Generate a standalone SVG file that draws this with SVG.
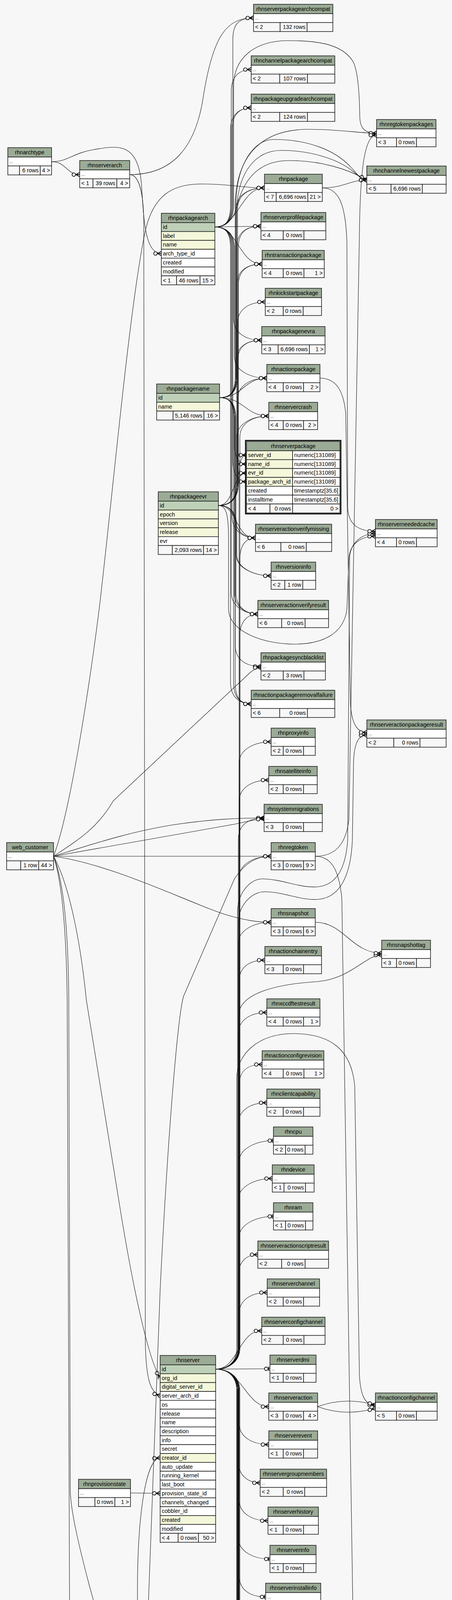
<svg xmlns="http://www.w3.org/2000/svg" width="1157" height="5580" viewBox="0 0 1157 5580">
<style>
text{font-family:"Liberation Sans",Arial,Helvetica,sans-serif;font-size:14.3px;fill:#000}
.c{text-anchor:middle}
.r{text-anchor:end}
.d{font-size:11px}
.h{fill:#9bab96;stroke:#222;stroke-width:1.6}
.b{fill:#fff;stroke:#222;stroke-width:1.6}
.f{fill:#f7f7f7;stroke:#222;stroke-width:1.6}
.g{fill:#bed1b8;stroke:#222;stroke-width:1.6}
.y{fill:#f4f7da;stroke:#222;stroke-width:1.6}
.fo{fill:none;stroke:#000;stroke-width:2.5}
#edges path{fill:none;stroke:#111;stroke-width:1.1;marker-end:url(#crow)}
#edges path.o{marker-end:url(#one)}
</style>
<defs>
<marker id="crow" markerUnits="userSpaceOnUse" orient="auto" markerWidth="22" markerHeight="14" viewBox="-21 -7 22 14" refX="0" refY="0"><path d="M-10 0L0-5.5M-10 0L0 0M-10 0L0 5.5" fill="none" stroke="#000" stroke-width="1.8"/><circle cx="-15" cy="0" r="4.5" fill="#fff" stroke="#000" stroke-width="1.7"/></marker>
<marker id="one" markerUnits="userSpaceOnUse" orient="auto" markerWidth="22" markerHeight="14" viewBox="-21 -7 22 14" refX="0" refY="0"><path d="M-3-5.5V5.5" fill="none" stroke="#000" stroke-width="2"/><circle cx="-9.5" cy="0" r="4.5" fill="#fff" stroke="#000" stroke-width="1.7"/></marker>
</defs>
<rect x="0" y="0" width="1157" height="5580" fill="#f7f7f7"/>
<g id="edges">
<path d="M550 581C578 581 596 566 596 526L596 101C596 64 609 46 649 46"/>
<path d="M550 581C578 581 592 566 592 526L592 233C592 196 613 178 643 178"/>
<path d="M550 581C578 581 590 566 590 526L590 331C590 294 613 276 643 276"/>
<path d="M550 581C578 581 594 566 594 526L594 331C594 294 613 276 643 276"/>
<path d="M550 581C610 581 617 481 677 481"/>
<path d="M550 581L668 579"/>
<path d="M550 581C610 581 611 676 671 676"/>
<path d="M550 581C578 581 598 596 598 636L598 816C598 853 630 871 670 871"/>
<path d="M550 581C578 581 600 596 600 636L600 913C600 950 643 968 683 968"/>
<path d="M550 581C578 581 596 596 596 636L596 1178C596 1215 611 1233 631 1233"/>
<path d="M550 581C578 581 594 596 594 636L594 1322C594 1359 624 1377 654 1377"/>
<path d="M550 581C578 581 592 596 592 636L592 1517C592 1554 630 1572 660 1572"/>
<path d="M550 581C578 581 590 596 590 636L590 1747C590 1784 613 1802 643 1802"/>
<path d="M550 581C578 581 598 566 598 526L598 220C598 150 650 104 738 104C820 104 880 115 905 160C918 190 920 250 921 300C922 330 935 341 964 341"/>
<path d="M550 581C580 581 598 560 606 530C625 450 670 411 740 411C820 411 890 432 939 461"/>
<path d="M562 1018C590 1018 604 1003 604 963L604 536C604 499 637 481 677 481"/>
<path d="M562 1018C590 1018 604 1003 604 963L604 520C606 420 650 357 700 357C790 357 860 385 900 430C915 447 925 461 939 461"/>
<path d="M562 1018C590 1018 602 1003 602 963L602 520C605 420 650 331 790 331C870 331 920 341 964 341"/>
<path d="M562 1018C590 1018 606 1003 606 963L606 634C606 597 628 579 668 579"/>
<path d="M562 1018C590 1018 606 1003 606 963L606 731C606 694 631 676 671 676"/>
<path d="M562 1018C590 1018 608 1003 608 963L608 828C608 791 639 773 679 773"/>
<path d="M562 1018C590 1018 604 1003 604 963L604 926C604 889 630 871 670 871"/>
<path d="M562 1018C620 1018 625 968 683 968"/>
<path d="M562 1018C625 1018 628 1065 688 1065"/>
<path d="M562 1018C590 1018 600 1033 600 1073L600 1133C600 1170 611 1188 631 1188"/>
<path d="M562 1018C590 1018 602 1033 602 1073L602 1322C602 1359 624 1377 654 1377"/>
<path d="M562 1018C590 1018 604 1033 604 1073L604 1419C604 1456 654 1474 694 1474"/>
<path d="M562 1018C590 1018 600 1033 600 1073L600 1517C600 1554 630 1572 660 1572"/>
<path d="M562 1018C590 1018 602 1033 602 1073L602 1651C602 1688 628 1706 668 1706"/>
<path d="M562 1018C590 1018 598 1033 598 1073L598 1747C598 1784 613 1802 643 1802"/>
<path d="M559 1294C587 1294 608 1279 608 1239L608 536C608 499 637 481 677 481"/>
<path d="M559 1294C587 1294 606 1279 606 1239L606 540C608 440 655 385 720 385C800 385 870 410 905 440C920 452 928 461 939 461"/>
<path d="M559 1294C587 1294 610 1279 610 1239L610 634C610 597 628 579 668 579"/>
<path d="M559 1294C587 1294 610 1279 610 1239L610 731C610 694 631 676 671 676"/>
<path d="M559 1294C587 1294 608 1279 608 1239L608 926C608 889 630 871 670 871"/>
<path d="M559 1294C587 1294 608 1279 608 1239L608 1023C608 986 643 968 683 968"/>
<path d="M559 1294C587 1294 606 1279 606 1239L606 1120C606 1083 648 1065 688 1065"/>
<path d="M559 1294C600 1294 595 1211 631 1211"/>
<path d="M559 1294C610 1294 600 1377 654 1377"/>
<path d="M559 1294C587 1294 606 1309 606 1349L606 1419C606 1456 654 1474 694 1474"/>
<path d="M559 1294C587 1294 604 1309 604 1349L604 1517C604 1554 630 1572 660 1572"/>
<path d="M559 1294C587 1294 602 1309 602 1349L602 1747C602 1784 613 1802 643 1802"/>
<path d="M559 1294C580 1294 585 1320 585 1380L585 1560C587 1620 680 1649 753 1649C830 1649 880 1620 888 1560L893 1430C896 1390 925 1373 961 1373"/>
<path d="M552 3505C580 3505 612 3490 612 3450L612 1220C612 1183 618 1165 631 1165"/>
<path d="M552 3505C580 3505 614 3490 614 3450L614 1432C614 1395 630 1377 654 1377"/>
<path d="M552 3505C580 3505 614 3490 614 3450L614 1627C614 1590 635 1572 660 1572"/>
<path d="M552 3505C580 3505 612 3490 612 3450L612 1954C612 1917 654 1899 694 1899"/>
<path d="M552 3505C580 3505 612 3490 612 3450L612 2052C612 2015 648 1997 688 1997"/>
<path d="M552 3505C580 3505 610 3490 610 3450L610 2149C610 2112 636 2094 676 2094"/>
<path d="M552 3505C580 3505 612 3490 612 3450L612 2247C612 2210 654 2192 694 2192"/>
<path d="M552 3505C580 3505 610 3490 610 3450L610 2416C610 2379 654 2361 694 2361"/>
<path d="M552 3505C580 3505 612 3490 612 3450L612 2513C612 2476 638 2458 678 2458"/>
<path d="M552 3505C580 3505 611 3490 611 3450L611 2600C611 2545 700 2520 812 2513C900 2505 935 2445 977 2445"/>
<path d="M552 3505C580 3505 610 3490 610 3450L610 2647C610 2610 643 2592 683 2592"/>
<path d="M552 3505C580 3505 612 3490 612 3450L612 2780C612 2743 631 2725 671 2725"/>
<path d="M552 3505C580 3505 610 3490 610 3450L610 2878C610 2841 643 2823 683 2823"/>
<path class="o" d="M552 3505C580 3505 612 3490 612 3450L612 2975C612 2938 660 2920 700 2920"/>
<path d="M552 3505C580 3505 610 3490 610 3450L610 3072C610 3035 657 3017 697 3017"/>
<path class="o" d="M552 3505C580 3505 612 3490 612 3450L612 3169C612 3132 660 3114 700 3114"/>
<path d="M552 3505C580 3505 610 3490 610 3450L610 3267C610 3230 630 3212 660 3212"/>
<path d="M552 3505C580 3505 612 3490 612 3450L612 3364C612 3327 644 3309 684 3309"/>
<path d="M552 3505C610 3505 610 3407 670 3407"/>
<path class="o" d="M552 3505L691 3504"/>
<path d="M552 3505C620 3505 630 3601 688 3601"/>
<path d="M552 3505C580 3505 612 3520 612 3560L612 3643C612 3680 648 3698 688 3698"/>
<path d="M552 3505C580 3505 610 3520 610 3560L610 3741C610 3778 636 3796 666 3796"/>
<path d="M552 3505C580 3505 612 3520 612 3560L612 3838C612 3875 646 3893 686 3893"/>
<path class="o" d="M552 3505C580 3505 610 3520 610 3560L610 3936C610 3973 651 3991 691 3991"/>
<path class="o" d="M552 3505C580 3505 612 3520 612 3560L612 4033C612 4070 640 4088 680 4088"/>
<path class="o" d="M552 3505C580 3505 610 3520 610 3560L610 4130C610 4167 644 4185 684 4185"/>
<path class="o" d="M552 3505C580 3505 612 3520 612 3560L612 4227C612 4264 634 4282 674 4282"/>
<path d="M552 3505C580 3505 610 3520 610 3560L610 4325C610 4362 643 4380 683 4380"/>
<path d="M552 3505C580 3505 608 3520 608 3560L608 4419C608 4456 650 4474 690 4474"/>
<path d="M552 3505C580 3505 612 3520 612 3560L612 4425C612 4462 650 4480 690 4480"/>
<path d="M552 3505C580 3505 610 3520 610 3560L610 4519C610 4556 638 4574 668 4574"/>
<path class="o" d="M552 3505C580 3505 612 3520 612 3560L612 4617C612 4654 650 4672 690 4672"/>
<path d="M552 3505C580 3505 610 3520 610 3560L610 4714C610 4751 641 4769 671 4769"/>
<path d="M552 3505C580 3505 608 3520 608 3560L608 4808C608 4845 643 4863 683 4863"/>
<path d="M552 3505C580 3505 612 3520 612 3560L612 4815C612 4852 643 4870 683 4870"/>
<path d="M552 3505C580 3505 606 3520 606 3560L606 4941C606 4978 640 4996 680 4996"/>
<path d="M552 3505C580 3505 610 3520 610 3560L610 4945C610 4982 640 5000 680 5000"/>
<path d="M552 3505C580 3505 614 3520 614 3560L614 4949C614 4986 640 5004 680 5004"/>
<path d="M552 3505C580 3505 608 3520 608 3560L608 5042C608 5079 637 5097 677 5097"/>
<path d="M552 3505C580 3505 610 3520 610 3560L610 5139C610 5176 640 5194 680 5194"/>
<path d="M552 3505C580 3505 608 3520 608 3560L608 5236C608 5273 630 5291 660 5291"/>
<path d="M552 3505C580 3505 610 3520 610 3560L610 5334C610 5371 651 5389 691 5389"/>
<path d="M552 3505C580 3505 606 3520 606 3560L606 5431C606 5468 648 5486 688 5486"/>
<path d="M552 3505C580 3505 614 3490 614 3450L614 1120C614 1083 648 1065 688 1065"/>
<path d="M552 3505C580 3505 608 3490 608 3450L608 2330C610 2285 640 2250 672 2250C722 2250 770 2275 815 2270C860 2265 885 2225 890 2150L895 1425C898 1390 925 1366 961 1366"/>
<path d="M552 3505C580 3505 610 3490 610 3450L610 2360C612 2315 645 2283 678 2283C728 2283 772 2307 817 2302C868 2297 898 2245 902 2150L905 1950C907 1900 918 1882 939 1882"/>
<path d="M552 3505C580 3505 606 3490 606 3450L606 2760C606 2700 660 2646 750 2646C850 2646 900 2690 908 2780L920 3520C923 3575 935 3597 961 3597"/>
<path d="M552 3505C580 3505 612 3520 612 3560L612 4850C614 4910 680 4945 750 4945C830 4945 895 4910 903 4830L912 4380C915 4335 935 4318 968 4318"/>
<path d="M825 481C880 481 895 461 939 461"/>
<path d="M825 481C870 481 885 530 888 620L890 1300C892 1345 920 1360 961 1360"/>
<path d="M819 968C860 968 880 1000 885 1060L897 1800C900 1855 915 1875 939 1875"/>
<path d="M807 2192C860 2192 885 2160 893 2100L920 600C922 420 935 346 964 346"/>
<path d="M807 2192C850 2192 868 2230 875 2300L905 4230C908 4290 930 4311 968 4311"/>
<path d="M807 2361C880 2361 900 2440 977 2440"/>
<path d="M813 3601C870 3580 920 3585 961 3597"/>
<path d="M813 3601C870 3622 920 3617 961 3605"/>
<path d="M132 414C170 414 170 447 204 447"/>
<path d="M132 414C175 414 185 392 240 383C300 373 352 362 362 470C368 560 370 649 413 649"/>
<path d="M332 447C440 447 500 380 520 250C545 90 580 46 649 46"/>
<path d="M332 447C352 447 366 480 368 560L372 3440C374 3530 385 3565 410 3573"/>
<path d="M137 2192C180 2080 230 1750 255 1550C290 1250 330 800 370 600C390 500 440 471 516 471C590 471 620 481 677 481"/>
<path d="M137 2192C240 2160 330 2130 440 2112C540 2097 610 2094 676 2094"/>
<path d="M137 2192L600 2110C630 2104 650 2098 676 2096"/>
<path d="M137 2192L694 2192"/>
<path d="M137 2192C300 2215 500 2320 590 2345C630 2356 660 2361 694 2361"/>
<path d="M137 2192C200 2150 250 2120 290 2050L640 1722C650 1714 657 1709 668 1709"/>
<path d="M137 2192C175 2260 205 2400 221 2560L302 3060C340 3300 380 3480 410 3528"/>
<path d="M137 2192C160 2260 170 2400 172 2560L180 4600C185 4900 195 5080 210 5148"/>
<path d="M137 2192C165 2260 175 2400 176 2560L180 3820C182 3870 200 3950 229 4060L366 4560C420 4800 560 4960 680 4998"/>
<path d="M334 3822L410 3823"/>
<path d="M325 5145C348 5090 362 4950 362 4800L352 4100C350 3900 370 3735 410 3732"/>
<path d="M325 5145C345 5100 343 5000 343 4900L380 4100L410 3300C430 2900 455 2600 470 2550L600 2250C630 2205 660 2192 694 2192"/>
<path d="M325 5145C370 5120 420 5070 490 5052C560 5030 620 5003 680 5001"/>
<path d="M325 5145C420 5140 480 5125 540 5112C600 5100 640 5097 677 5097"/>
<path d="M325 5145C420 5150 480 5160 540 5180C600 5195 640 5194 680 5194"/>
<path d="M325 5145C360 5170 400 5200 430 5225C480 5265 560 5291 660 5291"/>
<path d="M325 5145C365 5175 405 5205 440 5230C490 5270 570 5290 660 5293"/>
<path d="M325 5145C355 5180 380 5250 420 5300C480 5370 580 5389 691 5389"/>
<path d="M325 5145C370 5200 355 5300 380 5380C420 5470 560 5486 688 5486"/>
</g>
<g id="rhnserverpackagearchcompat"><rect class="h" x="649" y="11" width="203" height="24"/><text class="c" x="750.5" y="28">rhnserverpackagearchcompat</text><rect class="b" x="649" y="35" width="203" height="22.7"/><text class="d" x="653" y="50">...</text><rect class="f" x="649" y="57.7" width="68" height="23"/><rect class="f" x="717" y="57.7" width="69" height="23"/><rect class="f" x="786" y="57.7" width="66" height="23"/><text x="653" y="74">&lt; 2</text><text class="r" x="782" y="74">132 rows</text></g>
<g id="rhnchannelpackagearchcompat"><rect class="h" x="643" y="143" width="214" height="24"/><text class="c" x="750" y="160">rhnchannelpackagearchcompat</text><rect class="b" x="643" y="167" width="214" height="22.7"/><text class="d" x="647" y="182">...</text><rect class="f" x="643" y="189.7" width="73" height="23"/><rect class="f" x="716" y="189.7" width="71" height="23"/><rect class="f" x="787" y="189.7" width="70" height="23"/><text x="647" y="206">&lt; 2</text><text class="r" x="783" y="206">107 rows</text></g>
<g id="rhnpackageupgradearchcompat"><rect class="h" x="643" y="241" width="214" height="24"/><text class="c" x="750" y="258">rhnpackageupgradearchcompat</text><rect class="b" x="643" y="265" width="214" height="22.7"/><text class="d" x="647" y="280">...</text><rect class="f" x="643" y="287.7" width="73" height="23"/><rect class="f" x="716" y="287.7" width="71" height="23"/><rect class="f" x="787" y="287.7" width="70" height="23"/><text x="647" y="304">&lt; 2</text><text class="r" x="783" y="304">124 rows</text></g>
<g id="rhnregtokenpackages"><rect class="h" x="964" y="306" width="152" height="24"/><text class="c" x="1040" y="323">rhnregtokenpackages</text><rect class="b" x="964" y="330" width="152" height="22.7"/><text class="d" x="968" y="345">...</text><rect class="f" x="964" y="352.7" width="51" height="23"/><rect class="f" x="1015" y="352.7" width="51" height="23"/><rect class="f" x="1066" y="352.7" width="50" height="23"/><text x="968" y="369">&lt; 3</text><text class="r" x="1062" y="369">0 rows</text></g>
<g id="rhnarchtype"><rect class="h" x="20" y="378" width="112" height="24"/><text class="c" x="76" y="395">rhnarchtype</text><rect class="b" x="20" y="402" width="112" height="22.7"/><text class="d" x="24" y="417">...</text><rect class="f" x="20" y="424.7" width="30" height="23"/><rect class="f" x="50" y="424.7" width="53" height="23"/><rect class="f" x="103" y="424.7" width="29" height="23"/><text class="r" x="99" y="441">6 rows</text><text class="r" x="128" y="441">4 &gt;</text></g>
<g id="rhnserverarch"><rect class="h" x="204" y="411" width="128" height="24"/><text class="c" x="268" y="428">rhnserverarch</text><rect class="b" x="204" y="435" width="128" height="22.7"/><text class="d" x="208" y="450">...</text><rect class="f" x="204" y="457.7" width="34" height="23"/><rect class="f" x="238" y="457.7" width="61" height="23"/><rect class="f" x="299" y="457.7" width="33" height="23"/><text x="208" y="474">&lt; 1</text><text class="r" x="295" y="474">39 rows</text><text class="r" x="328" y="474">4 &gt;</text></g>
<g id="rhnchannelnewestpackage"><rect class="h" x="939" y="425" width="203" height="24"/><text class="c" x="1040.5" y="442">rhnchannelnewestpackage</text><rect class="b" x="939" y="449" width="203" height="22.7"/><text class="d" x="943" y="464">...</text><rect class="f" x="939" y="471.7" width="62" height="23"/><rect class="f" x="1001" y="471.7" width="80" height="23"/><rect class="f" x="1081" y="471.7" width="61" height="23"/><text x="943" y="488">&lt; 5</text><text class="r" x="1077" y="488">6,696 rows</text></g>
<g id="rhnpackage"><rect class="h" x="677" y="446" width="148" height="24"/><text class="c" x="751" y="463">rhnpackage</text><rect class="b" x="677" y="470" width="148" height="22.7"/><text class="d" x="681" y="485">...</text><rect class="f" x="677" y="492.7" width="30" height="23"/><rect class="f" x="707" y="492.7" width="81" height="23"/><rect class="f" x="788" y="492.7" width="37" height="23"/><text x="681" y="509">&lt; 7</text><text class="r" x="784" y="509">6,696 rows</text><text class="r" x="821" y="509">21 &gt;</text></g>
<g id="rhnpackagearch"><rect class="h" x="413" y="546" width="137" height="24"/><text class="c" x="481.5" y="563">rhnpackagearch</text><rect class="g" x="413" y="570" width="137" height="22.7"/><text x="417" y="586">id</text><rect class="y" x="413" y="592.7" width="137" height="22.7"/><text x="417" y="608.7">label</text><rect class="y" x="413" y="615.4" width="137" height="22.7"/><text x="417" y="631.4">name</text><rect class="b" x="413" y="638.1" width="137" height="22.7"/><text x="417" y="654.1">arch_type_id</text><rect class="b" x="413" y="660.8" width="137" height="22.7"/><text x="417" y="676.8">created</text><rect class="b" x="413" y="683.5" width="137" height="22.7"/><text x="417" y="699.5">modified</text><rect class="f" x="413" y="706.2" width="39" height="23"/><rect class="f" x="452" y="706.2" width="60" height="23"/><rect class="f" x="512" y="706.2" width="38" height="23"/><text x="417" y="722.5">&lt; 1</text><text class="r" x="508" y="722.5">46 rows</text><text class="r" x="546" y="722.5">15 &gt;</text></g>
<g id="rhnserverprofilepackage"><rect class="h" x="668" y="544" width="166" height="24"/><text class="c" x="751" y="561">rhnserverprofilepackage</text><rect class="b" x="668" y="568" width="166" height="22.7"/><text class="d" x="672" y="583">...</text><rect class="f" x="668" y="590.7" width="57" height="23"/><rect class="f" x="725" y="590.7" width="53" height="23"/><rect class="f" x="778" y="590.7" width="56" height="23"/><text x="672" y="607">&lt; 4</text><text class="r" x="774" y="607">0 rows</text></g>
<g id="rhntransactionpackage"><rect class="h" x="671" y="641" width="159" height="24"/><text class="c" x="750.5" y="658">rhntransactionpackage</text><rect class="b" x="671" y="665" width="159" height="22.7"/><text class="d" x="675" y="680">...</text><rect class="f" x="671" y="687.7" width="54" height="23"/><rect class="f" x="725" y="687.7" width="53" height="23"/><rect class="f" x="778" y="687.7" width="52" height="23"/><text x="675" y="704">&lt; 4</text><text class="r" x="774" y="704">0 rows</text><text class="r" x="826" y="704">1 &gt;</text></g>
<g id="rhnkickstartpackage"><rect class="h" x="679" y="738" width="144" height="24"/><text class="c" x="751" y="755">rhnkickstartpackage</text><rect class="b" x="679" y="762" width="144" height="22.7"/><text class="d" x="683" y="777">...</text><rect class="f" x="679" y="784.7" width="46" height="23"/><rect class="f" x="725" y="784.7" width="51" height="23"/><rect class="f" x="776" y="784.7" width="47" height="23"/><text x="683" y="801">&lt; 2</text><text class="r" x="772" y="801">0 rows</text></g>
<g id="rhnpackagenevra"><rect class="h" x="670" y="836" width="162" height="24"/><text class="c" x="751" y="853">rhnpackagenevra</text><rect class="b" x="670" y="860" width="162" height="22.7"/><text class="d" x="674" y="875">...</text><rect class="f" x="670" y="882.7" width="42" height="23"/><rect class="f" x="712" y="882.7" width="80" height="23"/><rect class="f" x="792" y="882.7" width="40" height="23"/><text x="674" y="899">&lt; 3</text><text class="r" x="788" y="899">6,696 rows</text><text class="r" x="828" y="899">1 &gt;</text></g>
<g id="rhnactionpackage"><rect class="h" x="683" y="933" width="136" height="24"/><text class="c" x="751" y="950">rhnactionpackage</text><rect class="b" x="683" y="957" width="136" height="22.7"/><text class="d" x="687" y="972">...</text><rect class="f" x="683" y="979.7" width="42" height="23"/><rect class="f" x="725" y="979.7" width="52" height="23"/><rect class="f" x="777" y="979.7" width="42" height="23"/><text x="687" y="996">&lt; 4</text><text class="r" x="773" y="996">0 rows</text><text class="r" x="815" y="996">2 &gt;</text></g>
<g id="rhnpackagename"><rect class="h" x="401" y="983" width="161" height="24"/><text class="c" x="481.5" y="1000">rhnpackagename</text><rect class="g" x="401" y="1007" width="161" height="22.7"/><text x="405" y="1023">id</text><rect class="y" x="401" y="1029.7" width="161" height="22.7"/><text x="405" y="1045.7">name</text><rect class="f" x="401" y="1052.4" width="42" height="23"/><rect class="f" x="443" y="1052.4" width="79" height="23"/><rect class="f" x="522" y="1052.4" width="40" height="23"/><text class="r" x="518" y="1068.5">5,146 rows</text><text class="r" x="558" y="1068.5">16 &gt;</text></g>
<g id="rhnservercrash"><rect class="h" x="688" y="1030" width="125" height="24"/><text class="c" x="750.5" y="1047">rhnservercrash</text><rect class="b" x="688" y="1054" width="125" height="22.7"/><text class="d" x="692" y="1069">...</text><rect class="f" x="688" y="1076.7" width="37" height="23"/><rect class="f" x="725" y="1076.7" width="52" height="23"/><rect class="f" x="777" y="1076.7" width="36" height="23"/><text x="692" y="1093">&lt; 4</text><text class="r" x="773" y="1093">0 rows</text><text class="r" x="809" y="1093">2 &gt;</text></g>
<g id="rhnserverpackage"><rect class="h" x="631" y="1130" width="239" height="24"/><text class="c" x="750.5" y="1147">rhnserverpackage</text><rect class="y" x="631" y="1154" width="118" height="22.7"/><rect class="b" x="749" y="1154" width="121" height="22.7"/><text x="635" y="1170">server_id</text><text x="753" y="1170">numeric[131089]</text><rect class="y" x="631" y="1176.7" width="118" height="22.7"/><rect class="b" x="749" y="1176.7" width="121" height="22.7"/><text x="635" y="1192.7">name_id</text><text x="753" y="1192.7">numeric[131089]</text><rect class="y" x="631" y="1199.4" width="118" height="22.7"/><rect class="b" x="749" y="1199.4" width="121" height="22.7"/><text x="635" y="1215.4">evr_id</text><text x="753" y="1215.4">numeric[131089]</text><rect class="y" x="631" y="1222.1" width="118" height="22.7"/><rect class="b" x="749" y="1222.1" width="121" height="22.7"/><text x="635" y="1238.1">package_arch_id</text><text x="753" y="1238.1">numeric[131089]</text><rect class="b" x="631" y="1244.8" width="118" height="22.7"/><rect class="b" x="749" y="1244.8" width="121" height="22.7"/><text x="635" y="1260.8">created</text><text x="753" y="1260.8">timestamptz[35,6]</text><rect class="b" x="631" y="1267.5" width="118" height="22.7"/><rect class="b" x="749" y="1267.5" width="121" height="22.7"/><text x="635" y="1283.5">installtime</text><text x="753" y="1283.5">timestamptz[35,6]</text><rect class="f" x="631" y="1290.2" width="60" height="23"/><rect class="f" x="691" y="1290.2" width="58" height="23"/><rect class="f" x="749" y="1290.2" width="121" height="23"/><text x="635" y="1306.5">&lt; 4</text><text class="r" x="745" y="1306.5">0 rows</text><text class="r" x="866" y="1306.5">0 &gt;</text><rect class="fo" x="628.5" y="1127.5" width="244" height="188"/></g>
<g id="rhnpackageevr"><rect class="h" x="405" y="1259" width="154" height="24"/><text class="c" x="482" y="1276">rhnpackageevr</text><rect class="g" x="405" y="1283" width="154" height="22.7"/><text x="409" y="1299">id</text><rect class="y" x="405" y="1305.7" width="154" height="22.7"/><text x="409" y="1321.7">epoch</text><rect class="y" x="405" y="1328.4" width="154" height="22.7"/><text x="409" y="1344.4">version</text><rect class="y" x="405" y="1351.1" width="154" height="22.7"/><text x="409" y="1367.1">release</text><rect class="b" x="405" y="1373.8" width="154" height="22.7"/><text x="409" y="1389.8">evr</text><rect class="f" x="405" y="1396.5" width="36" height="23"/><rect class="f" x="441" y="1396.5" width="80" height="23"/><rect class="f" x="521" y="1396.5" width="38" height="23"/><text class="r" x="517" y="1412.5">2,093 rows</text><text class="r" x="555" y="1412.5">14 &gt;</text></g>
<g id="rhnserveractionverifymissing"><rect class="h" x="654" y="1342" width="195" height="24"/><text class="c" x="751.5" y="1359">rhnserveractionverifymissing</text><rect class="b" x="654" y="1366" width="195" height="22.7"/><text class="d" x="658" y="1381">...</text><rect class="f" x="654" y="1388.7" width="65" height="23"/><rect class="f" x="719" y="1388.7" width="65" height="23"/><rect class="f" x="784" y="1388.7" width="65" height="23"/><text x="658" y="1405">&lt; 6</text><text class="r" x="780" y="1405">0 rows</text></g>
<g id="rhnserverneededcache"><rect class="h" x="961" y="1330" width="158" height="24"/><text class="c" x="1040" y="1347">rhnserverneededcache</text><rect class="b" x="961" y="1354" width="158" height="22.7"/><text class="d" x="965" y="1369">...</text><rect class="f" x="961" y="1376.7" width="54" height="23"/><rect class="f" x="1015" y="1376.7" width="51" height="23"/><rect class="f" x="1066" y="1376.7" width="53" height="23"/><text x="965" y="1393">&lt; 4</text><text class="r" x="1062" y="1393">0 rows</text></g>
<g id="rhnversioninfo"><rect class="h" x="694" y="1439" width="114" height="24"/><text class="c" x="751" y="1456">rhnversioninfo</text><rect class="b" x="694" y="1463" width="114" height="22.7"/><text class="d" x="698" y="1478">...</text><rect class="f" x="694" y="1485.7" width="35" height="23"/><rect class="f" x="729" y="1485.7" width="46" height="23"/><rect class="f" x="775" y="1485.7" width="33" height="23"/><text x="698" y="1502">&lt; 2</text><text class="r" x="771" y="1502">1 row</text></g>
<g id="rhnserveractionverifyresult"><rect class="h" x="660" y="1537" width="181" height="24"/><text class="c" x="750.5" y="1554">rhnserveractionverifyresult</text><rect class="b" x="660" y="1561" width="181" height="22.7"/><text class="d" x="664" y="1576">...</text><rect class="f" x="660" y="1583.7" width="61" height="23"/><rect class="f" x="721" y="1583.7" width="60" height="23"/><rect class="f" x="781" y="1583.7" width="60" height="23"/><text x="664" y="1600">&lt; 6</text><text class="r" x="777" y="1600">0 rows</text></g>
<g id="rhnpackagesyncblacklist"><rect class="h" x="668" y="1671" width="165" height="24"/><text class="c" x="750.5" y="1688">rhnpackagesyncblacklist</text><rect class="b" x="668" y="1695" width="165" height="22.7"/><text class="d" x="672" y="1710">...</text><rect class="f" x="668" y="1717.7" width="57" height="23"/><rect class="f" x="725" y="1717.7" width="53" height="23"/><rect class="f" x="778" y="1717.7" width="55" height="23"/><text x="672" y="1734">&lt; 2</text><text class="r" x="774" y="1734">3 rows</text></g>
<g id="rhnactionpackageremovalfailure"><rect class="h" x="643" y="1767" width="214" height="24"/><text class="c" x="750" y="1784">rhnactionpackageremovalfailure</text><rect class="b" x="643" y="1791" width="214" height="22.7"/><text class="d" x="647" y="1806">...</text><rect class="f" x="643" y="1813.7" width="73" height="23"/><rect class="f" x="716" y="1813.7" width="71" height="23"/><rect class="f" x="787" y="1813.7" width="70" height="23"/><text x="647" y="1830">&lt; 6</text><text class="r" x="783" y="1830">0 rows</text></g>
<g id="rhnproxyinfo"><rect class="h" x="694" y="1864" width="113" height="24"/><text class="c" x="750.5" y="1881">rhnproxyinfo</text><rect class="b" x="694" y="1888" width="113" height="22.7"/><text class="d" x="698" y="1903">...</text><rect class="f" x="694" y="1910.7" width="31" height="23"/><rect class="f" x="725" y="1910.7" width="52" height="23"/><rect class="f" x="777" y="1910.7" width="30" height="23"/><text x="698" y="1927">&lt; 2</text><text class="r" x="773" y="1927">0 rows</text></g>
<g id="rhnserveractionpackageresult"><rect class="h" x="939" y="1843" width="203" height="24"/><text class="c" x="1040.5" y="1860">rhnserveractionpackageresult</text><rect class="b" x="939" y="1867" width="203" height="22.7"/><text class="d" x="943" y="1882">...</text><rect class="f" x="939" y="1889.7" width="69" height="23"/><rect class="f" x="1008" y="1889.7" width="67" height="23"/><rect class="f" x="1075" y="1889.7" width="67" height="23"/><text x="943" y="1906">&lt; 2</text><text class="r" x="1071" y="1906">0 rows</text></g>
<g id="rhnsatelliteinfo"><rect class="h" x="688" y="1962" width="124" height="24"/><text class="c" x="750" y="1979">rhnsatelliteinfo</text><rect class="b" x="688" y="1986" width="124" height="22.7"/><text class="d" x="692" y="2001">...</text><rect class="f" x="688" y="2008.7" width="37" height="23"/><rect class="f" x="725" y="2008.7" width="52" height="23"/><rect class="f" x="777" y="2008.7" width="35" height="23"/><text x="692" y="2025">&lt; 2</text><text class="r" x="773" y="2025">0 rows</text></g>
<g id="rhnsystemmigrations"><rect class="h" x="676" y="2059" width="149" height="24"/><text class="c" x="750.5" y="2076">rhnsystemmigrations</text><rect class="b" x="676" y="2083" width="149" height="22.7"/><text class="d" x="680" y="2098">...</text><rect class="f" x="676" y="2105.7" width="49" height="23"/><rect class="f" x="725" y="2105.7" width="52" height="23"/><rect class="f" x="777" y="2105.7" width="48" height="23"/><text x="680" y="2122">&lt; 3</text><text class="r" x="773" y="2122">0 rows</text></g>
<g id="web_customer"><rect class="h" x="17" y="2157" width="120" height="24"/><text class="c" x="77" y="2174">web_customer</text><rect class="b" x="17" y="2181" width="120" height="22.7"/><text class="d" x="21" y="2196">...</text><rect class="f" x="17" y="2203.7" width="36" height="23"/><rect class="f" x="53" y="2203.7" width="46" height="23"/><rect class="f" x="99" y="2203.7" width="38" height="23"/><text class="r" x="95" y="2220">1 row</text><text class="r" x="133" y="2220">44 &gt;</text></g>
<g id="rhnregtoken"><rect class="h" x="694" y="2157" width="113" height="24"/><text class="c" x="750.5" y="2174">rhnregtoken</text><rect class="b" x="694" y="2181" width="113" height="22.7"/><text class="d" x="698" y="2196">...</text><rect class="f" x="694" y="2203.7" width="31" height="23"/><rect class="f" x="725" y="2203.7" width="52" height="23"/><rect class="f" x="777" y="2203.7" width="30" height="23"/><text x="698" y="2220">&lt; 3</text><text class="r" x="773" y="2220">0 rows</text><text class="r" x="803" y="2220">9 &gt;</text></g>
<g id="rhnsnapshot"><rect class="h" x="694" y="2326" width="113" height="24"/><text class="c" x="750.5" y="2343">rhnsnapshot</text><rect class="b" x="694" y="2350" width="113" height="22.7"/><text class="d" x="698" y="2365">...</text><rect class="f" x="694" y="2372.7" width="31" height="23"/><rect class="f" x="725" y="2372.7" width="52" height="23"/><rect class="f" x="777" y="2372.7" width="30" height="23"/><text x="698" y="2389">&lt; 3</text><text class="r" x="773" y="2389">0 rows</text><text class="r" x="803" y="2389">6 &gt;</text></g>
<g id="rhnactionchainentry"><rect class="h" x="678" y="2423" width="145" height="24"/><text class="c" x="750.5" y="2440">rhnactionchainentry</text><rect class="b" x="678" y="2447" width="145" height="22.7"/><text class="d" x="682" y="2462">...</text><rect class="f" x="678" y="2469.7" width="47" height="23"/><rect class="f" x="725" y="2469.7" width="52" height="23"/><rect class="f" x="777" y="2469.7" width="46" height="23"/><text x="682" y="2486">&lt; 3</text><text class="r" x="773" y="2486">0 rows</text></g>
<g id="rhnsnapshottag"><rect class="h" x="977" y="2407" width="125" height="24"/><text class="c" x="1039.5" y="2424">rhnsnapshottag</text><rect class="b" x="977" y="2431" width="125" height="22.7"/><text class="d" x="981" y="2446">...</text><rect class="f" x="977" y="2453.7" width="38" height="23"/><rect class="f" x="1015" y="2453.7" width="51" height="23"/><rect class="f" x="1066" y="2453.7" width="36" height="23"/><text x="981" y="2470">&lt; 3</text><text class="r" x="1062" y="2470">0 rows</text></g>
<g id="rhnxccdftestresult"><rect class="h" x="683" y="2557" width="136" height="24"/><text class="c" x="751" y="2574">rhnxccdftestresult</text><rect class="b" x="683" y="2581" width="136" height="22.7"/><text class="d" x="687" y="2596">...</text><rect class="f" x="683" y="2603.7" width="42" height="23"/><rect class="f" x="725" y="2603.7" width="52" height="23"/><rect class="f" x="777" y="2603.7" width="42" height="23"/><text x="687" y="2620">&lt; 4</text><text class="r" x="773" y="2620">0 rows</text><text class="r" x="815" y="2620">1 &gt;</text></g>
<g id="rhnactionconfigrevision"><rect class="h" x="671" y="2690" width="158" height="24"/><text class="c" x="750" y="2707">rhnactionconfigrevision</text><rect class="b" x="671" y="2714" width="158" height="22.7"/><text class="d" x="675" y="2729">...</text><rect class="f" x="671" y="2736.7" width="54" height="23"/><rect class="f" x="725" y="2736.7" width="53" height="23"/><rect class="f" x="778" y="2736.7" width="51" height="23"/><text x="675" y="2753">&lt; 4</text><text class="r" x="774" y="2753">0 rows</text><text class="r" x="825" y="2753">1 &gt;</text></g>
<g id="rhnclientcapability"><rect class="h" x="683" y="2788" width="136" height="24"/><text class="c" x="751" y="2805">rhnclientcapability</text><rect class="b" x="683" y="2812" width="136" height="22.7"/><text class="d" x="687" y="2827">...</text><rect class="f" x="683" y="2834.7" width="42" height="23"/><rect class="f" x="725" y="2834.7" width="52" height="23"/><rect class="f" x="777" y="2834.7" width="42" height="23"/><text x="687" y="2851">&lt; 2</text><text class="r" x="773" y="2851">0 rows</text></g>
<g id="rhncpu"><rect class="h" x="700" y="2885" width="101" height="24"/><text class="c" x="750.5" y="2902">rhncpu</text><rect class="b" x="700" y="2909" width="101" height="22.7"/><text class="d" x="704" y="2924">...</text><rect class="f" x="700" y="2931.7" width="31" height="23"/><rect class="f" x="731" y="2931.7" width="50" height="23"/><rect class="f" x="781" y="2931.7" width="20" height="23"/><text x="704" y="2948">&lt; 2</text><text class="r" x="777" y="2948">0 rows</text></g>
<g id="rhndevice"><rect class="h" x="697" y="2982" width="107" height="24"/><text class="c" x="750.5" y="2999">rhndevice</text><rect class="b" x="697" y="3006" width="107" height="22.7"/><text class="d" x="701" y="3021">...</text><rect class="f" x="697" y="3028.7" width="30" height="23"/><rect class="f" x="727" y="3028.7" width="55" height="23"/><rect class="f" x="782" y="3028.7" width="22" height="23"/><text x="701" y="3045">&lt; 1</text><text class="r" x="778" y="3045">0 rows</text></g>
<g id="rhnram"><rect class="h" x="700" y="3079" width="101" height="24"/><text class="c" x="750.5" y="3096">rhnram</text><rect class="b" x="700" y="3103" width="101" height="22.7"/><text class="d" x="704" y="3118">...</text><rect class="f" x="700" y="3125.7" width="31" height="23"/><rect class="f" x="731" y="3125.7" width="51" height="23"/><rect class="f" x="782" y="3125.7" width="19" height="23"/><text x="704" y="3142">&lt; 1</text><text class="r" x="778" y="3142">0 rows</text></g>
<g id="rhnserveractionscriptresult"><rect class="h" x="660" y="3177" width="181" height="24"/><text class="c" x="750.5" y="3194">rhnserveractionscriptresult</text><rect class="b" x="660" y="3201" width="181" height="22.7"/><text class="d" x="664" y="3216">...</text><rect class="f" x="660" y="3223.7" width="61" height="23"/><rect class="f" x="721" y="3223.7" width="60" height="23"/><rect class="f" x="781" y="3223.7" width="60" height="23"/><text x="664" y="3240">&lt; 2</text><text class="r" x="777" y="3240">0 rows</text></g>
<g id="rhnserverchannel"><rect class="h" x="684" y="3274" width="134" height="24"/><text class="c" x="751" y="3291">rhnserverchannel</text><rect class="b" x="684" y="3298" width="134" height="22.7"/><text class="d" x="688" y="3313">...</text><rect class="f" x="684" y="3320.7" width="41" height="23"/><rect class="f" x="725" y="3320.7" width="52" height="23"/><rect class="f" x="777" y="3320.7" width="41" height="23"/><text x="688" y="3337">&lt; 2</text><text class="r" x="773" y="3337">0 rows</text></g>
<g id="rhnserverconfigchannel"><rect class="h" x="670" y="3372" width="162" height="24"/><text class="c" x="751" y="3389">rhnserverconfigchannel</text><rect class="b" x="670" y="3396" width="162" height="22.7"/><text class="d" x="674" y="3411">...</text><rect class="f" x="670" y="3418.7" width="55" height="23"/><rect class="f" x="725" y="3418.7" width="53" height="23"/><rect class="f" x="778" y="3418.7" width="54" height="23"/><text x="674" y="3435">&lt; 2</text><text class="r" x="774" y="3435">0 rows</text></g>
<g id="rhnserverdmi"><rect class="h" x="691" y="3469" width="118" height="24"/><text class="c" x="750" y="3486">rhnserverdmi</text><rect class="b" x="691" y="3493" width="118" height="22.7"/><text class="d" x="695" y="3508">...</text><rect class="f" x="691" y="3515.7" width="34" height="23"/><rect class="f" x="725" y="3515.7" width="52" height="23"/><rect class="f" x="777" y="3515.7" width="32" height="23"/><text x="695" y="3532">&lt; 1</text><text class="r" x="773" y="3532">0 rows</text></g>
<g id="rhnserver"><rect class="h" x="410" y="3470" width="142" height="24"/><text class="c" x="481" y="3487">rhnserver</text>
<rect class="g" x="410" y="3494" width="142" height="22.7"/><text x="414" y="3510">id</text>
<rect class="y" x="410" y="3516.7" width="142" height="22.7"/><text x="414" y="3532.7">org_id</text>
<rect class="y" x="410" y="3539.4" width="142" height="22.7"/><text x="414" y="3555.4">digital_server_id</text>
<rect class="b" x="410" y="3562.1" width="142" height="22.7"/><text x="414" y="3578.1">server_arch_id</text>
<rect class="b" x="410" y="3584.8" width="142" height="22.7"/><text x="414" y="3600.8">os</text>
<rect class="b" x="410" y="3607.5" width="142" height="22.7"/><text x="414" y="3623.5">release</text>
<rect class="b" x="410" y="3630.2" width="142" height="22.7"/><text x="414" y="3646.2">name</text>
<rect class="b" x="410" y="3652.9" width="142" height="22.7"/><text x="414" y="3668.9">description</text>
<rect class="b" x="410" y="3675.6" width="142" height="22.7"/><text x="414" y="3691.6">info</text>
<rect class="b" x="410" y="3698.3" width="142" height="22.7"/><text x="414" y="3714.3">secret</text>
<rect class="y" x="410" y="3721" width="142" height="22.7"/><text x="414" y="3737">creator_id</text>
<rect class="b" x="410" y="3743.7" width="142" height="22.7"/><text x="414" y="3759.7">auto_update</text>
<rect class="b" x="410" y="3766.4" width="142" height="22.7"/><text x="414" y="3782.4">running_kernel</text>
<rect class="b" x="410" y="3789.1" width="142" height="22.7"/><text x="414" y="3805.1">last_boot</text>
<rect class="b" x="410" y="3811.8" width="142" height="22.7"/><text x="414" y="3827.8">provision_state_id</text>
<rect class="b" x="410" y="3834.5" width="142" height="22.7"/><text x="414" y="3850.5">channels_changed</text>
<rect class="b" x="410" y="3857.2" width="142" height="22.7"/><text x="414" y="3873.2">cobbler_id</text>
<rect class="y" x="410" y="3879.9" width="142" height="22.7"/><text x="414" y="3895.9">created</text>
<rect class="b" x="410" y="3902.6" width="142" height="22.7"/><text x="414" y="3918.6">modified</text>
<rect class="f" x="410" y="3925.3" width="46" height="23"/><rect class="f" x="456" y="3925.3" width="52" height="23"/><rect class="f" x="508" y="3925.3" width="44" height="23"/><text x="414" y="3941.5">&lt; 4</text><text class="r" x="504" y="3941.5">0 rows</text><text class="r" x="548" y="3941.5">50 &gt;</text></g>
<g id="rhnserveraction"><rect class="h" x="688" y="3566" width="125" height="24"/><text class="c" x="750.5" y="3583">rhnserveraction</text><rect class="b" x="688" y="3590" width="125" height="22.7"/><text class="d" x="692" y="3605">...</text><rect class="f" x="688" y="3612.7" width="37" height="23"/><rect class="f" x="725" y="3612.7" width="52" height="23"/><rect class="f" x="777" y="3612.7" width="36" height="23"/><text x="692" y="3629">&lt; 3</text><text class="r" x="773" y="3629">0 rows</text><text class="r" x="809" y="3629">4 &gt;</text></g>
<g id="rhnactionconfigchannel"><rect class="h" x="961" y="3566" width="158" height="24"/><text class="c" x="1040" y="3583">rhnactionconfigchannel</text><rect class="b" x="961" y="3590" width="158" height="22.7"/><text class="d" x="965" y="3605">...</text><rect class="f" x="961" y="3612.7" width="54" height="23"/><rect class="f" x="1015" y="3612.7" width="51" height="23"/><rect class="f" x="1066" y="3612.7" width="53" height="23"/><text x="965" y="3629">&lt; 5</text><text class="r" x="1062" y="3629">0 rows</text></g>
<g id="rhnserverevent"><rect class="h" x="688" y="3663" width="125" height="24"/><text class="c" x="750.5" y="3680">rhnserverevent</text><rect class="b" x="688" y="3687" width="125" height="22.7"/><text class="d" x="692" y="3702">...</text><rect class="f" x="688" y="3709.7" width="37" height="23"/><rect class="f" x="725" y="3709.7" width="52" height="23"/><rect class="f" x="777" y="3709.7" width="36" height="23"/><text x="692" y="3726">&lt; 1</text><text class="r" x="773" y="3726">0 rows</text></g>
<g id="rhnservergroupmembers"><rect class="h" x="666" y="3761" width="170" height="24"/><text class="c" x="751" y="3778">rhnservergroupmembers</text><rect class="b" x="666" y="3785" width="170" height="22.7"/><text class="d" x="670" y="3800">...</text><rect class="f" x="666" y="3807.7" width="59" height="23"/><rect class="f" x="725" y="3807.7" width="55" height="23"/><rect class="f" x="780" y="3807.7" width="56" height="23"/><text x="670" y="3824">&lt; 2</text><text class="r" x="776" y="3824">0 rows</text></g>
<g id="rhnprovisionstate"><rect class="h" x="201" y="3787" width="133" height="24"/><text class="c" x="267.5" y="3804">rhnprovisionstate</text><rect class="b" x="201" y="3811" width="133" height="22.7"/><text class="d" x="205" y="3826">...</text><rect class="f" x="201" y="3833.7" width="42" height="23"/><rect class="f" x="243" y="3833.7" width="51" height="23"/><rect class="f" x="294" y="3833.7" width="40" height="23"/><text class="r" x="290" y="3850">0 rows</text><text class="r" x="330" y="3850">1 &gt;</text></g>
<g id="rhnserverhistory"><rect class="h" x="686" y="3858" width="129" height="24"/><text class="c" x="750.5" y="3875">rhnserverhistory</text><rect class="b" x="686" y="3882" width="129" height="22.7"/><text class="d" x="690" y="3897">...</text><rect class="f" x="686" y="3904.7" width="39" height="23"/><rect class="f" x="725" y="3904.7" width="52" height="23"/><rect class="f" x="777" y="3904.7" width="38" height="23"/><text x="690" y="3921">&lt; 1</text><text class="r" x="773" y="3921">0 rows</text></g>
<g id="rhnserverinfo"><rect class="h" x="691" y="3956" width="118" height="24"/><text class="c" x="750" y="3973">rhnserverinfo</text><rect class="b" x="691" y="3980" width="118" height="22.7"/><text class="d" x="695" y="3995">...</text><rect class="f" x="691" y="4002.7" width="34" height="23"/><rect class="f" x="725" y="4002.7" width="52" height="23"/><rect class="f" x="777" y="4002.7" width="32" height="23"/><text x="695" y="4019">&lt; 1</text><text class="r" x="773" y="4019">0 rows</text></g>
<g id="rhnserverinstallinfo"><rect class="h" x="680" y="4053" width="141" height="24"/><text class="c" x="750.5" y="4070">rhnserverinstallinfo</text><rect class="b" x="680" y="4077" width="141" height="22.7"/><text class="d" x="684" y="4092">...</text><rect class="f" x="680" y="4099.7" width="45" height="23"/><rect class="f" x="725" y="4099.7" width="52" height="23"/><rect class="f" x="777" y="4099.7" width="44" height="23"/><text x="684" y="4116">&lt; 1</text><text class="r" x="773" y="4116">0 rows</text></g>
<g id="rhnserverlocation"><rect class="h" x="684" y="4150" width="134" height="24"/><text class="c" x="751" y="4167">rhnserverlocation</text><rect class="b" x="684" y="4174" width="134" height="22.7"/><text class="d" x="688" y="4189">...</text><rect class="f" x="684" y="4196.7" width="41" height="23"/><rect class="f" x="725" y="4196.7" width="52" height="23"/><rect class="f" x="777" y="4196.7" width="41" height="23"/><text x="688" y="4213">&lt; 1</text><text class="r" x="773" y="4213">0 rows</text></g>
<g id="rhnservernetinterface"><rect class="h" x="674" y="4247" width="152" height="24"/><text class="c" x="750" y="4264">rhnservernetinterface</text><rect class="b" x="674" y="4271" width="152" height="22.7"/><text class="d" x="678" y="4286">...</text><rect class="f" x="674" y="4293.7" width="51" height="23"/><rect class="f" x="725" y="4293.7" width="52" height="23"/><rect class="f" x="777" y="4293.7" width="49" height="23"/><text x="678" y="4310">&lt; 1</text><text class="r" x="773" y="4310">0 rows</text><text class="r" x="822" y="4310">2 &gt;</text></g>
<g id="rhnservertokenregs"><rect class="h" x="968" y="4279" width="144" height="24"/><text class="c" x="1040" y="4296">rhnservertokenregs</text><rect class="b" x="968" y="4303" width="144" height="22.7"/><text class="d" x="972" y="4318">...</text><rect class="f" x="968" y="4325.7" width="47" height="23"/><rect class="f" x="1015" y="4325.7" width="51" height="23"/><rect class="f" x="1066" y="4325.7" width="46" height="23"/><text x="972" y="4342">&lt; 2</text><text class="r" x="1062" y="4342">0 rows</text></g>
<g id="rhnservernetwork"><rect class="h" x="683" y="4345" width="136" height="24"/><text class="c" x="751" y="4362">rhnservernetwork</text><rect class="b" x="683" y="4369" width="136" height="22.7"/><text class="d" x="687" y="4384">...</text><rect class="f" x="683" y="4391.7" width="42" height="23"/><rect class="f" x="725" y="4391.7" width="52" height="23"/><rect class="f" x="777" y="4391.7" width="42" height="23"/><text x="687" y="4408">&lt; 1</text><text class="r" x="773" y="4408">0 rows</text></g>
<g id="rhnserverpath"><rect class="h" x="690" y="4442" width="121" height="24"/><text class="c" x="750.5" y="4459">rhnserverpath</text><rect class="b" x="690" y="4466" width="121" height="22.7"/><text class="d" x="694" y="4481">...</text><rect class="f" x="690" y="4488.7" width="35" height="23"/><rect class="f" x="725" y="4488.7" width="52" height="23"/><rect class="f" x="777" y="4488.7" width="34" height="23"/><text x="694" y="4505">&lt; 2</text><text class="r" x="773" y="4505">0 rows</text></g>
<g id="rhnserverpreservefilelist"><rect class="h" x="668" y="4539" width="166" height="24"/><text class="c" x="751" y="4556">rhnserverpreservefilelist</text><rect class="b" x="668" y="4563" width="166" height="22.7"/><text class="d" x="672" y="4578">...</text><rect class="f" x="668" y="4585.7" width="57" height="23"/><rect class="f" x="725" y="4585.7" width="53" height="23"/><rect class="f" x="778" y="4585.7" width="56" height="23"/><text x="672" y="4602">&lt; 2</text><text class="r" x="774" y="4602">0 rows</text></g>
<g id="rhnserveruuid"><rect class="h" x="690" y="4637" width="121" height="24"/><text class="c" x="750.5" y="4654">rhnserveruuid</text><rect class="b" x="690" y="4661" width="121" height="22.7"/><text class="d" x="694" y="4676">...</text><rect class="f" x="690" y="4683.7" width="35" height="23"/><rect class="f" x="725" y="4683.7" width="52" height="23"/><rect class="f" x="777" y="4683.7" width="34" height="23"/><text x="694" y="4700">&lt; 1</text><text class="r" x="773" y="4700">0 rows</text></g>
<g id="rhnssmoperationserver"><rect class="h" x="671" y="4734" width="158" height="24"/><text class="c" x="750" y="4751">rhnssmoperationserver</text><rect class="b" x="671" y="4758" width="158" height="22.7"/><text class="d" x="675" y="4773">...</text><rect class="f" x="671" y="4780.7" width="54" height="23"/><rect class="f" x="725" y="4780.7" width="53" height="23"/><rect class="f" x="778" y="4780.7" width="51" height="23"/><text x="675" y="4797">&lt; 2</text><text class="r" x="774" y="4797">0 rows</text></g>
<g id="rhnvirtualinstance"><rect class="h" x="683" y="4831" width="136" height="24"/><text class="c" x="751" y="4848">rhnvirtualinstance</text><rect class="b" x="683" y="4855" width="136" height="22.7"/><text class="d" x="687" y="4870">...</text><rect class="f" x="683" y="4877.7" width="42" height="23"/><rect class="f" x="725" y="4877.7" width="52" height="23"/><rect class="f" x="777" y="4877.7" width="42" height="23"/><text x="687" y="4894">&lt; 2</text><text class="r" x="773" y="4894">0 rows</text><text class="r" x="815" y="4894">2 &gt;</text></g>
<g id="rhnkickstartsession"><rect class="h" x="680" y="4965" width="141" height="24"/><text class="c" x="750.5" y="4982">rhnkickstartsession</text><rect class="b" x="680" y="4989" width="141" height="22.7"/><text class="d" x="684" y="5004">...</text><rect class="f" x="680" y="5011.7" width="45" height="23"/><rect class="f" x="725" y="5011.7" width="52" height="23"/><rect class="f" x="777" y="5011.7" width="44" height="23"/><text x="684" y="5028">&lt; 11</text><text class="r" x="773" y="5028">0 rows</text><text class="r" x="817" y="5028">4 &gt;</text></g>
<g id="rhnuserserverperms"><rect class="h" x="677" y="5062" width="146" height="24"/><text class="c" x="750" y="5079">rhnuserserverperms</text><rect class="b" x="677" y="5086" width="146" height="22.7"/><text class="d" x="681" y="5101">...</text><rect class="f" x="677" y="5108.7" width="48" height="23"/><rect class="f" x="725" y="5108.7" width="52" height="23"/><rect class="f" x="777" y="5108.7" width="46" height="23"/><text x="681" y="5125">&lt; 2</text><text class="r" x="773" y="5125">0 rows</text></g>
<g id="web_contact"><rect class="h" x="210" y="5110" width="115" height="24"/><text class="c" x="267.5" y="5127">web_contact</text><rect class="b" x="210" y="5134" width="115" height="22.7"/><text class="d" x="214" y="5149">...</text><rect class="f" x="210" y="5156.7" width="32" height="23"/><rect class="f" x="242" y="5156.7" width="46" height="23"/><rect class="f" x="288" y="5156.7" width="37" height="23"/><text x="214" y="5173">&lt; 1</text><text class="r" x="284" y="5173">1 row</text><text class="r" x="321" y="5173">32 &gt;</text></g>
<g id="rhnuserserverprefs"><rect class="h" x="680" y="5159" width="141" height="24"/><text class="c" x="750.5" y="5176">rhnuserserverprefs</text><rect class="b" x="680" y="5183" width="141" height="22.7"/><text class="d" x="684" y="5198">...</text><rect class="f" x="680" y="5205.7" width="45" height="23"/><rect class="f" x="725" y="5205.7" width="52" height="23"/><rect class="f" x="777" y="5205.7" width="44" height="23"/><text x="684" y="5222">&lt; 2</text><text class="r" x="773" y="5222">0 rows</text></g>
<g id="rhnservercustomdatavalue"><rect class="h" x="660" y="5256" width="181" height="24"/><text class="c" x="750.5" y="5273">rhnservercustomdatavalue</text><rect class="b" x="660" y="5280" width="181" height="22.7"/><text class="d" x="664" y="5295">...</text><rect class="f" x="660" y="5302.7" width="61" height="23"/><rect class="f" x="721" y="5302.7" width="60" height="23"/><rect class="f" x="781" y="5302.7" width="60" height="23"/><text x="664" y="5319">&lt; 4</text><text class="r" x="777" y="5319">0 rows</text></g>
<g id="rhnserverlock"><rect class="h" x="691" y="5354" width="118" height="24"/><text class="c" x="750" y="5371">rhnserverlock</text><rect class="b" x="691" y="5378" width="118" height="22.7"/><text class="d" x="695" y="5393">...</text><rect class="f" x="691" y="5400.7" width="34" height="23"/><rect class="f" x="725" y="5400.7" width="52" height="23"/><rect class="f" x="777" y="5400.7" width="32" height="23"/><text x="695" y="5417">&lt; 2</text><text class="r" x="773" y="5417">0 rows</text></g>
<g id="rhnservernotes"><rect class="h" x="688" y="5451" width="125" height="24"/><text class="c" x="750.5" y="5468">rhnservernotes</text><rect class="b" x="688" y="5475" width="125" height="22.7"/><text class="d" x="692" y="5490">...</text><rect class="f" x="688" y="5497.7" width="37" height="23"/><rect class="f" x="725" y="5497.7" width="52" height="23"/><rect class="f" x="777" y="5497.7" width="36" height="23"/><text x="692" y="5514">&lt; 2</text><text class="r" x="773" y="5514">0 rows</text></g>
<text x="16" y="5564">Generated by SchemaSpy</text>
</svg>
